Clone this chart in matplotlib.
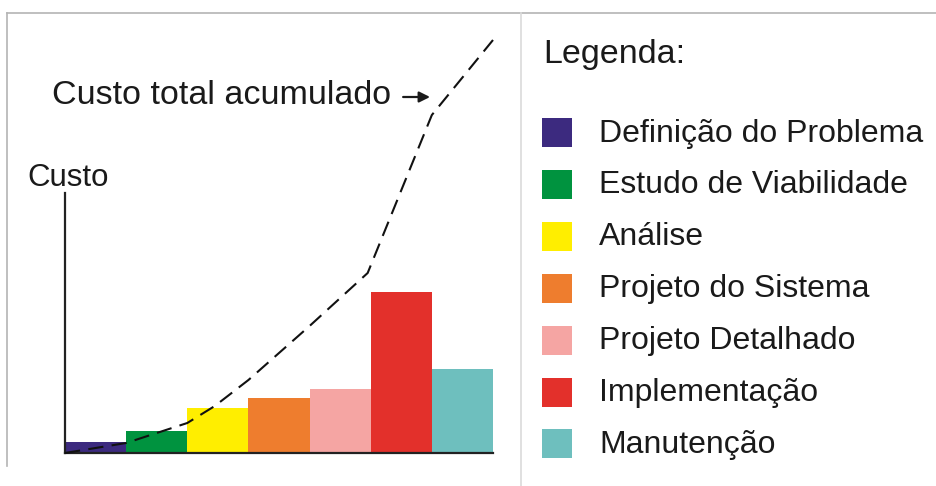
import matplotlib
matplotlib.use('Agg')
import matplotlib.pyplot as plt
from matplotlib.patches import Rectangle

plt.rcParams['font.family'] = ['Liberation Sans', 'DejaVu Sans']
plt.rcParams['lines.scale_dashes'] = False

# data (cost in arbitrary units)
phases = ['Definição do Problema', 'Estudo de Viabilidade', 'Análise',
          'Projeto do Sistema', 'Projeto Detalhado', 'Implementação', 'Manutenção']
custo = [11, 22, 45, 55, 64, 161, 84]
cores = ['#3c2a7f', '#00933f', '#ffee00', '#ee7d2e', '#f5a5a3', '#e3302b', '#6ebfbe']

# cumulative cost curve (phase progress, cost)
acum_x = [0, 1, 2, 2.45, 3, 4, 4.95, 6, 7]
acum_y = [0, 10, 30, 47, 73, 127, 180, 338, 413]

W, H = 936, 486
fig = plt.figure(figsize=(W / 100, H / 100), dpi=100)

# main chart, ylim in the same units as pixels above the baseline
ax = fig.add_axes([65 / W, 33 / H, 428 / W, 415 / H])
ax.set_xlim(0, 7)
ax.set_ylim(0, 415)
ax.bar(range(len(custo)), custo, width=1.0, align='edge', color=cores, linewidth=0)
ax.plot(acum_x, acum_y, color='#111111', lw=1.5, dashes=(11, 6), clip_on=False, zorder=5)

for s in ['top', 'right']:
    ax.spines[s].set_visible(False)
ax.spines['left'].set_bounds(0, 260)
ax.spines['left'].set_linewidth(1.6)
ax.spines['bottom'].set_linewidth(1.6)
ax.spines['left'].set_color('#222222')
ax.spines['bottom'].set_color('#222222')
ax.set_xticks([])
ax.set_yticks([])
ax.patch.set_alpha(0)

ax.text(-0.62, 275, 'Custo', fontsize=22.5, va='center', ha='left', color='#1a1a1a')
ax.text(-0.21, 358, 'Custo total acumulado', fontsize=24.5, va='center', ha='left', color='#1a1a1a')
ax.annotate('', xy=(5.97, 356), xytext=(5.53, 356),
            arrowprops=dict(arrowstyle='-|>', color='#1a1a1a', lw=1.6,
                            mutation_scale=16, shrinkA=0, shrinkB=0))

# overlay in pixel coords for frame and legend
ov = fig.add_axes([0, 0, 1, 1])
ov.set_xlim(0, W)
ov.set_ylim(H, 0)
ov.axis('off')
ov.patch.set_alpha(0)
ov.plot([7, W], [13, 13], color='#b4b4b4', lw=1.2)
ov.plot([7, 7], [13, 466], color='#b4b4b4', lw=1.2)
ov.plot([521, 521], [13, H], color='#dadada', lw=1.2)

ov.text(543, 55, 'Legenda:', fontsize=24.5, va='center', ha='left', color='#1a1a1a')
for i, (nome, cor) in enumerate(zip(phases, cores)):
    yc = 132.5 + i * 51.9
    ov.add_patch(Rectangle((542, yc - 14.5), 29.5, 29, color=cor, lw=0))
    ov.text(599, yc + 1, nome, fontsize=23, va='center', ha='left', color='#1a1a1a')

fig.savefig('out.png', dpi=100)
